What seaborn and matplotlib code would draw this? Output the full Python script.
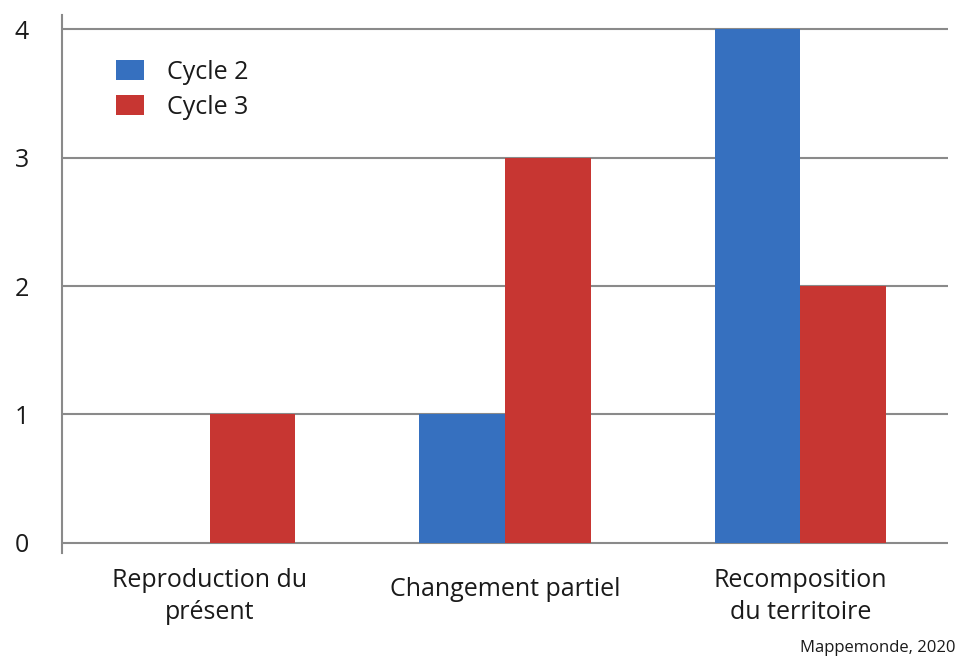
import matplotlib
matplotlib.use("Agg")
import matplotlib.pyplot as plt
import matplotlib.transforms as mtransforms
import seaborn as sns
import pandas as pd

categories = ["Reproduction du\nprésent", "Changement partiel", "Recomposition\ndu territoire"]
cycles = ["Cycle 2", "Cycle 3"]
cycle2_values = [0, 1, 4]
cycle3_values = [1, 3, 2]

df = pd.DataFrame({
    "categorie": categories * 2,
    "cycle": ["Cycle 2"] * 3 + ["Cycle 3"] * 3,
    "valeur": cycle2_values + cycle3_values,
})

sns.set_style("white")
plt.rcParams["font.family"] = ["Open Sans", "DejaVu Sans"]
plt.rcParams["text.color"] = "#1a1a1a"
plt.rcParams["xtick.labelcolor"] = "#1a1a1a"
plt.rcParams["ytick.labelcolor"] = "#1a1a1a"

fig = plt.figure(figsize=(9.59, 6.6), dpi=100)
ax = fig.add_axes([0.0647, 0.162, 0.9238, 0.815])

sns.barplot(data=df, x="categorie", y="valeur", hue="cycle", order=categories,
            hue_order=cycles, palette=["#3670BF", "#C73632"], width=0.58,
            saturation=1, linewidth=0, ax=ax, zorder=3)

ax.set_xlim(-0.5, 2.5)
ax.set_ylim(-0.08, 4.11)
ax.set_yticks([0, 1, 2, 3, 4])
ax.yaxis.grid(True, color="#8a8a8a", linewidth=1.5, zorder=0)
ax.set_axisbelow(True)
ax.tick_params(axis="y", length=12, width=1.5, color="#8a8a8a", labelsize=18, pad=12)
ax.tick_params(axis="x", length=0, labelsize=18, pad=10.5)
for s in ["top", "right", "bottom"]:
    ax.spines[s].set_visible(False)
ax.spines["left"].set_color("#8a8a8a")
ax.spines["left"].set_linewidth(1.5)
ax.set_xlabel("")
ax.set_ylabel("")
for lab in ax.get_xticklabels():
    lab.set_linespacing(1.4)

# the single-line label sits a bit lower in the original
mid = ax.xaxis.get_major_ticks()[1].label1
mid.set_transform(mid.get_transform() +
                  mtransforms.ScaledTranslation(0, -0.09, fig.dpi_scale_trans))

ax.legend(loc="upper left", bbox_to_anchor=(0.036, 0.959), frameon=False,
          fontsize=18, handlelength=1.12, handleheight=0.88, handletextpad=0.92,
          labelspacing=0.4)

fig.text(0.996, 0.006, "Mappemonde, 2020", ha="right", va="bottom", fontsize=12)

fig.savefig("out.png", dpi=100)
